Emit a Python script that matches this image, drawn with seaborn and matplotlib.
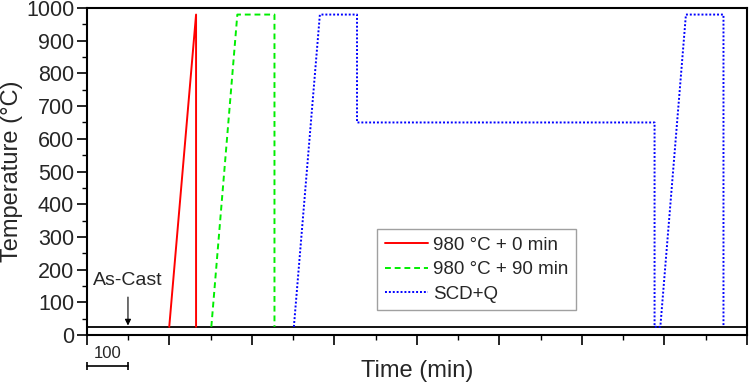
import matplotlib
matplotlib.use("Agg")
import matplotlib.pyplot as plt
import matplotlib.transforms as mtransforms
from matplotlib.ticker import MultipleLocator
import numpy as np
import pandas as pd
import seaborn as sns

# heat-treatment schedules (time in min, temperature in °C)
t_0min = [200, 265, 265]
T_0min = [25, 980, 25]

t_90min = [302, 365, 455, 455]
T_90min = [25, 980, 980, 25]

t_scdq = [502, 565, 655, 655, 1376, 1376, 1390, 1452, 1543, 1543]
T_scdq = [25, 980, 980, 650, 650, 25, 25, 980, 980, 25]

labels = ["980 °C + 0 min", "980 °C + 90 min", "SCD+Q"]
colors = ["#ff0000", "#00ee00", "#0000ff"]
dashes = ["-", (0, (3, 2)), (0, (1, 1))]

room_temp = 25
as_cast_time = 100
scale_bar = [0, 100]

sns.set_style("ticks")
plt.rcParams["font.family"] = ["Liberation Sans", "DejaVu Sans"]

fig = plt.figure(figsize=(7.5, 3.82), dpi=100)
ax = fig.add_axes([0.1156, 0.123, 0.8804, 0.856])

ax.axhline(room_temp, color="black", lw=1.3, zorder=1)

for t, T, lab, c, ls in zip([t_0min, t_90min, t_scdq], [T_0min, T_90min, T_scdq],
                            labels, colors, dashes):
    sns.lineplot(x=t, y=T, sort=False, estimator=None, color=c, lw=1.4,
                 linestyle=ls, label=lab, ax=ax)

ax.set_xlim(0, 1600)
ax.set_ylim(0, 1000)
ax.xaxis.set_major_locator(MultipleLocator(200))
ax.xaxis.set_minor_locator(MultipleLocator(100))
ax.yaxis.set_major_locator(MultipleLocator(100))
ax.yaxis.set_minor_locator(MultipleLocator(50))
ax.tick_params(axis="both", which="major", direction="out", length=7, width=1.2,
               labelsize=15.5, color="black", pad=2)
ax.tick_params(axis="both", which="minor", direction="out", length=3.5, width=1.0,
               color="black")
ax.tick_params(axis="x", which="both", labelbottom=False)
for s in ax.spines.values():
    s.set_visible(True)
    s.set_linewidth(1.5)
    s.set_color("black")

ax.set_xlabel("Time (min)", fontsize=17, labelpad=11)
ax.set_ylabel("Temperature (°C)", fontsize=17, labelpad=2)

# As-Cast marker
ax.text(as_cast_time, 168, "As-Cast", fontsize=14, ha="center", va="center")
ax.annotate("", xy=(as_cast_time, room_temp + 4), xytext=(as_cast_time, 116),
            arrowprops=dict(arrowstyle="-|>", color="black", lw=0.8,
                            mutation_scale=9, shrinkA=0, shrinkB=0))

# scale bar below the axis
trans = mtransforms.blended_transform_factory(ax.transData, ax.transAxes)
ax.plot(scale_bar, [-0.095, -0.095], color="black", lw=1.2, transform=trans,
        clip_on=False, marker="|", markersize=6, markeredgewidth=1.2)
ax.text(np.mean(scale_bar), -0.035, "100", fontsize=12, ha="center", va="top",
        transform=trans)

leg = ax.legend(loc="upper left", bbox_to_anchor=(0.44, 0.324), fontsize=13.5,
                frameon=True, fancybox=False, edgecolor="#888888",
                handlelength=2.3, handletextpad=0.3, borderpad=0.4,
                labelspacing=0.4, borderaxespad=0)
leg.get_frame().set_linewidth(1.0)

fig.savefig("out.png", dpi=100)
